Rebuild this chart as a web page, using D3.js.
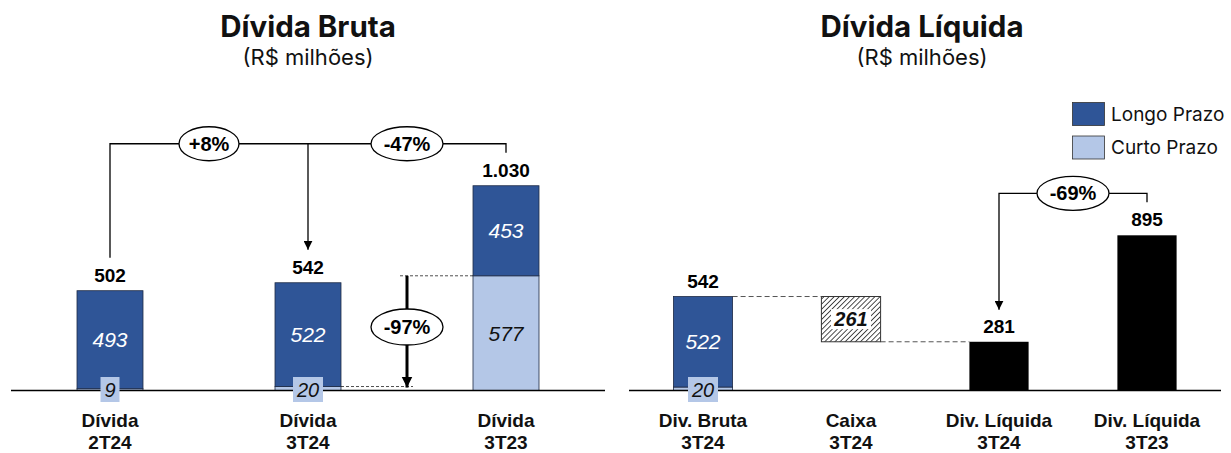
<!DOCTYPE html>
<html>
<head>
<meta charset="utf-8">
<script src="https://cdn.jsdelivr.net/npm/d3@7/dist/d3.min.js"></script>
<style>
  html, body { margin: 0; padding: 0; background: #fff; }
  svg { display: block; }
</style>
</head>
<body>
<svg id="chart" width="1231" height="453"></svg>
<script>
// ---- Dívida Bruta (R$ milhões) ----
const brutaCategories = [["Dívida", "2T24"], ["Dívida", "3T24"], ["Dívida", "3T23"]];
const brutaLongo = [493, 522, 453];
const brutaCurto = [9, 20, 577];
const brutaChanges = ["+8%", "-47%"];
const curtoChange = "-97%";

// ---- Dívida Líquida (R$ milhões) ----
const liquidaCategories = [["Div. Bruta", "3T24"], ["Caixa", "3T24"], ["Div. Líquida", "3T24"], ["Div. Líquida", "3T23"]];
const liquidaBrutaLongo = 522;
const liquidaBrutaCurto = 20;
const caixa = 261;
const liquidaValues = [281, 895];
const liquidaChange = "-69%";

const legendLabels = ["Longo Prazo", "Curto Prazo"];

// ---- styling ----
const DARK = "#2F5597", LIGHT = "#B4C7E7";
const NUM_FONT = "'Liberation Sans', Arial, sans-serif";
const TITLE_FONT = "Inter, 'Open Sans', sans-serif";
const loc = d3.formatLocale({ decimal: ",", thousands: ".", grouping: [3], currency: ["R$", ""] });
const fmt = loc.format(",d");

const svg = d3.select("#chart");
const baseY = 390.5;

const defs = svg.append("defs");
const hatch = defs.append("pattern").attr("id", "hatch")
  .attr("patternUnits", "userSpaceOnUse").attr("width", 3.6).attr("height", 3.6)
  .attr("patternTransform", "rotate(45)");
hatch.append("rect").attr("width", 3.6).attr("height", 3.6).attr("fill", "#fff");
hatch.append("line").attr("x1", 0).attr("y1", 0).attr("x2", 0).attr("y2", 3.6)
  .attr("stroke", "#222").attr("stroke-width", 1.6);
["arrowSmall", "arrowBig"].forEach((id, i) => {
  defs.append("marker").attr("id", id)
    .attr("viewBox", "0 0 10 10").attr("refX", 10).attr("refY", 5)
    .attr("markerUnits", "userSpaceOnUse")
    .attr("markerWidth", i === 0 ? 9 : 11).attr("markerHeight", i === 0 ? 9 : 12)
    .attr("orient", "auto")
    .append("path").attr("d", "M0,0 L10,5 L0,10 Z").attr("fill", "#000");
});

function title(cx, main) {
  svg.append("text").attr("x", cx).attr("y", 37).attr("text-anchor", "middle")
    .attr("font-family", TITLE_FONT).attr("font-weight", 700).attr("font-size", 29.5)
    .attr("fill", "#111").text(main);
  svg.append("text").attr("x", cx).attr("y", 65).attr("text-anchor", "middle")
    .attr("font-family", TITLE_FONT).attr("font-size", 22)
    .attr("fill", "#111").text("(R$ milhões)");
}

function categoryLabels(x, cats) {
  cats.forEach(c => {
    const t = svg.append("text").attr("text-anchor", "middle")
      .attr("font-family", NUM_FONT).attr("font-weight", 700).attr("font-size", 19)
      .attr("fill", "#111");
    c.forEach((line, i) => {
      t.append("tspan").attr("x", x(c.join(" ")) + x.bandwidth() / 2)
        .attr("y", 427 + i * 22).text(line);
    });
  });
}

function ellipseLabel(cx, cy, rx, ry, label) {
  svg.append("ellipse").attr("cx", cx).attr("cy", cy).attr("rx", rx).attr("ry", ry)
    .attr("fill", "#fff").attr("stroke", "#000").attr("stroke-width", 1.3);
  svg.append("text").attr("x", cx).attr("y", cy + 7).attr("text-anchor", "middle")
    .attr("font-family", NUM_FONT).attr("font-weight", 700).attr("font-size", 20)
    .attr("fill", "#000").text(label);
}

// small short-term values sit in a box over the baseline
const smallBoxes = [];
function smallValueBox(cx, cy, v) {
  const w = String(v).length * 11 + 8;
  svg.append("rect").attr("x", cx - w / 2).attr("y", cy - 12.5).attr("width", w).attr("height", 25)
    .attr("fill", LIGHT);
  svg.append("text").attr("x", cx).attr("y", cy + 7.5).attr("text-anchor", "middle")
    .attr("font-family", NUM_FONT).attr("font-style", "italic").attr("font-size", 20)
    .attr("fill", "#111").text(v);
}

// =============== Left chart ===============
title(308, "Dívida Bruta");
const xL = d3.scaleBand().domain(brutaCategories.map(c => c.join(" "))).range([11, 605]);
const yL = d3.scaleLinear().domain([0, 1100]).range([baseY, baseY - 1100 * 0.1988]);
const bwL = xL.bandwidth() / 3;

const stackRows = brutaCategories.map((c, i) => ({ key: c.join(" "), curto: brutaCurto[i], longo: brutaLongo[i] }));
const stacked = d3.stack().keys(["curto", "longo"])(stackRows);

stacked.forEach(layer => {
  svg.append("g").selectAll("rect").data(layer).join("rect")
    .attr("x", d => xL(d.data.key) + xL.bandwidth() / 2 - bwL / 2)
    .attr("y", d => yL(d[1]))
    .attr("width", bwL)
    .attr("height", d => yL(d[0]) - yL(d[1]))
    .attr("fill", layer.key === "longo" ? DARK : LIGHT)
    .attr("stroke", "#1e2b45").attr("stroke-width", 0.8);
});

// baseline
svg.append("line").attr("x1", 11).attr("x2", 605).attr("y1", baseY).attr("y2", baseY)
  .attr("stroke", "#000").attr("stroke-width", 1.5);

// segment values
stackRows.forEach((d, i) => {
  const cx = xL(d.key) + xL.bandwidth() / 2;
  const longoMid = (yL(d.curto) + yL(d.curto + d.longo)) / 2;
  svg.append("text").attr("x", cx).attr("y", longoMid + 7.5).attr("text-anchor", "middle")
    .attr("font-family", NUM_FONT).attr("font-style", "italic").attr("font-size", 21)
    .attr("fill", "#fff").text(d.longo);
  if (yL(0) - yL(d.curto) < 25) {
    smallValueBox(cx, baseY - 1, d.curto);
  } else {
    svg.append("text").attr("x", cx).attr("y", (yL(0) + yL(d.curto)) / 2 + 7.5)
      .attr("text-anchor", "middle")
      .attr("font-family", NUM_FONT).attr("font-style", "italic").attr("font-size", 21)
      .attr("fill", "#111").text(d.curto);
  }
  svg.append("text").attr("x", cx).attr("y", yL(d.curto + d.longo) - 9).attr("text-anchor", "middle")
    .attr("font-family", NUM_FONT).attr("font-weight", 700).attr("font-size", 19)
    .attr("fill", "#000").text(fmt(d.curto + d.longo));
});

// change brackets
const totalsL = stackRows.map(d => d.curto + d.longo);
const cxL = stackRows.map(d => xL(d.key) + xL.bandwidth() / 2);
const bracketY = yL(d3.max(totalsL)) - 42;
svg.append("path")
  .attr("d", `M${cxL[0]},${yL(totalsL[0]) - 33} V${bracketY} H${cxL[2]} V${yL(totalsL[2]) - 33}`)
  .attr("fill", "none").attr("stroke", "#000").attr("stroke-width", 1.3);
svg.append("line").attr("x1", cxL[1]).attr("x2", cxL[1]).attr("y1", bracketY).attr("y2", yL(totalsL[1]) - 33)
  .attr("stroke", "#000").attr("stroke-width", 1.3).attr("marker-end", "url(#arrowSmall)");
ellipseLabel((cxL[0] + cxL[1]) / 2, bracketY, 30, 17, brutaChanges[0]);
ellipseLabel((cxL[1] + cxL[2]) / 2, bracketY, 36, 17, brutaChanges[1]);

// short-term debt change arrow
const arrowX = ((cxL[1] + bwL / 2) + (cxL[2] - bwL / 2)) / 2;
svg.append("line").attr("x1", arrowX - 7).attr("x2", cxL[2] - bwL / 2)
  .attr("y1", yL(brutaCurto[2])).attr("y2", yL(brutaCurto[2]))
  .attr("stroke", "#222").attr("stroke-width", 0.8).attr("stroke-dasharray", "3,2");
svg.append("line").attr("x1", cxL[1] + bwL / 2).attr("x2", arrowX + 6)
  .attr("y1", yL(brutaCurto[1])).attr("y2", yL(brutaCurto[1]))
  .attr("stroke", "#222").attr("stroke-width", 0.8).attr("stroke-dasharray", "3,2");
svg.append("line").attr("x1", arrowX).attr("x2", arrowX)
  .attr("y1", yL(brutaCurto[2])).attr("y2", yL(brutaCurto[1]) + 1)
  .attr("stroke", "#000").attr("stroke-width", 3).attr("marker-end", "url(#arrowBig)");
ellipseLabel(arrowX, 327, 36, 18, curtoChange);

categoryLabels(xL, brutaCategories);

// =============== Right chart ===============
title(922, "Dívida Líquida");
const xR = d3.scaleBand().domain(liquidaCategories.map(c => c.join(" "))).range([629, 1221]);
const yR = d3.scaleLinear().domain([0, 1000]).range([baseY, baseY - 1000 * 0.1734]);
const bwR = xR.bandwidth() * 0.4;
const cR = liquidaCategories.map(c => xR(c.join(" ")) + xR.bandwidth() / 2);
const brutaTotal = liquidaBrutaLongo + liquidaBrutaCurto;

// gross debt bar (stacked)
const brutaStack = d3.stack().keys(["curto", "longo"])([{ curto: liquidaBrutaCurto, longo: liquidaBrutaLongo }]);
brutaStack.forEach(layer => {
  svg.append("rect")
    .attr("x", cR[0] - bwR / 2).attr("y", yR(layer[0][1]))
    .attr("width", bwR).attr("height", yR(layer[0][0]) - yR(layer[0][1]))
    .attr("fill", layer.key === "longo" ? DARK : LIGHT)
    .attr("stroke", "#1e2b45").attr("stroke-width", 0.8);
});
svg.append("text").attr("x", cR[0]).attr("y", (yR(liquidaBrutaCurto) + yR(brutaTotal)) / 2 + 7.5)
  .attr("text-anchor", "middle").attr("font-family", NUM_FONT).attr("font-style", "italic")
  .attr("font-size", 21).attr("fill", "#fff").text(liquidaBrutaLongo);

// cash (floating, hatched)
svg.append("rect").attr("x", cR[1] - bwR / 2).attr("y", yR(brutaTotal))
  .attr("width", bwR).attr("height", yR(brutaTotal - caixa) - yR(brutaTotal))
  .attr("fill", "url(#hatch)").attr("stroke", "#333").attr("stroke-width", 1);
const caixaMid = (yR(brutaTotal) + yR(brutaTotal - caixa)) / 2;
svg.append("rect").attr("x", cR[1] - 20).attr("y", caixaMid - 10).attr("width", 40).attr("height", 20)
  .attr("fill", "#fff");
svg.append("text").attr("x", cR[1]).attr("y", caixaMid + 7).attr("text-anchor", "middle")
  .attr("font-family", NUM_FONT).attr("font-weight", 700).attr("font-style", "italic")
  .attr("font-size", 20).attr("fill", "#111").text(caixa);

// net debt bars
svg.append("g").selectAll("rect").data(liquidaValues).join("rect")
  .attr("x", (d, i) => cR[i + 2] - bwR / 2).attr("y", d => yR(d))
  .attr("width", bwR).attr("height", d => yR(0) - yR(d)).attr("fill", "#000");

// connectors
svg.append("line").attr("x1", cR[0] + bwR / 2).attr("x2", cR[1] - bwR / 2)
  .attr("y1", yR(brutaTotal)).attr("y2", yR(brutaTotal))
  .attr("stroke", "#555").attr("stroke-width", 1).attr("stroke-dasharray", "5,3");
svg.append("line").attr("x1", cR[1] + bwR / 2).attr("x2", cR[2] - bwR / 2)
  .attr("y1", yR(liquidaValues[0])).attr("y2", yR(liquidaValues[0]))
  .attr("stroke", "#555").attr("stroke-width", 1).attr("stroke-dasharray", "5,3");

// totals
[[cR[0], brutaTotal], [cR[2], liquidaValues[0]], [cR[3], liquidaValues[1]]].forEach(([cx, v]) => {
  svg.append("text").attr("x", cx).attr("y", yR(v) - 9).attr("text-anchor", "middle")
    .attr("font-family", NUM_FONT).attr("font-weight", 700).attr("font-size", 19)
    .attr("fill", "#000").text(fmt(v));
});

svg.append("line").attr("x1", 629).attr("x2", 1221).attr("y1", baseY).attr("y2", baseY)
  .attr("stroke", "#000").attr("stroke-width", 1.5);
smallValueBox(cR[0], baseY - 1, liquidaBrutaCurto);

// -69% bracket
const bracketR = yR(liquidaValues[1]) - 42;
svg.append("path")
  .attr("d", `M${cR[3]},${yR(liquidaValues[1]) - 33} V${bracketR} H${cR[2]} V${yR(liquidaValues[0]) - 32}`)
  .attr("fill", "none").attr("stroke", "#000").attr("stroke-width", 1.3)
  .attr("marker-end", "url(#arrowSmall)");
ellipseLabel((cR[2] + cR[3]) / 2, bracketR, 36, 17, liquidaChange);

categoryLabels(xR, liquidaCategories);

// legend
const legend = svg.append("g");
legendLabels.forEach((lab, i) => {
  legend.append("rect").attr("x", 1072.5).attr("y", 102.5 + i * 33.5).attr("width", 32).attr("height", 23)
    .attr("fill", i === 0 ? DARK : LIGHT).attr("stroke", "#333").attr("stroke-width", 0.8);
  legend.append("text").attr("x", 1111).attr("y", 120.5 + i * 33.5)
    .attr("font-family", TITLE_FONT).attr("font-size", 19).attr("fill", "#111").text(lab);
});
</script>
</body>
</html>
